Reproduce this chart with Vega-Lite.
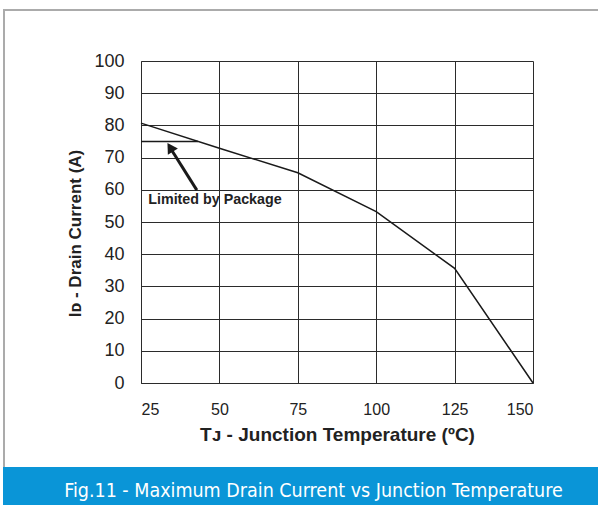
{
  "$schema": "https://vega.github.io/schema/vega-lite/v6.json",
  "padding": {"left": 3, "top": 9, "right": 0, "bottom": 0},
  "background": "white",
  "config": {"view": {"stroke": null}, "font": "Liberation Sans"},
  "spacing": 0,
  "vconcat": [
    {
      "spacing": 0,
      "hconcat": [
        {
          "width": 2,
          "height": 458,
          "view": {"fill": "#ababab", "stroke": null},
          "data": {"values": []},
          "mark": {"type": "point"}
        },
        {
          "spacing": 41,
          "vconcat": [
            {
              "width": 593,
              "height": 2,
              "view": {"fill": "#ababab", "stroke": null},
              "data": {"values": []},
              "mark": {"type": "point"}
            },
            {
              "spacing": 135,
              "bounds": "flush",
              "hconcat": [
                {
                  "width": 1,
                  "height": 1,
                  "data": {"values": []},
                  "mark": {"type": "point"}
                },
                {
                  "width": 392,
                  "height": 322,
                  "data": {"values": [
                    {"tj": 25, "id": 80.7},
                    {"tj": 50, "id": 72.9},
                    {"tj": 75, "id": 65.3},
                    {"tj": 100, "id": 53.2},
                    {"tj": 125, "id": 35.6},
                    {"tj": 150, "id": 0}
                  ]},
                  "encoding": {
                    "x": {
                      "field": "tj", "type": "quantitative",
                      "scale": {"domain": [25, 150], "nice": false, "zero": false},
                      "axis": {
                        "values": [25, 50, 75, 100, 125, 150],
                        "ticks": false, "grid": true, "gridColor": "#2b2b2b", "gridWidth": 1,
                        "domainColor": "#2b2b2b", "domainWidth": 1,
                        "labelFontSize": 16, "labelColor": "#222", "labelPadding": 18,
                        "labelFont": "Liberation Sans",
                        "title": "Tᴊ - Junction Temperature (ºC)",
                        "titleFontSize": 19, "titleFontWeight": "bold", "titleColor": "#222",
                        "titlePadding": 8, "titleFont": "Liberation Sans"
                      }
                    },
                    "y": {
                      "field": "id", "type": "quantitative",
                      "scale": {"domain": [0, 100], "nice": false},
                      "axis": {
                        "values": [0, 10, 20, 30, 40, 50, 60, 70, 80, 90, 100],
                        "ticks": false, "grid": true, "gridColor": "#2b2b2b", "gridWidth": 1,
                        "domainColor": "#2b2b2b", "domainWidth": 1,
                        "labelFontSize": 18, "labelColor": "#222", "labelPadding": 17,
                        "labelFont": "Liberation Sans",
                        "title": "Iᴅ - Drain Current (A)",
                        "titleFontSize": 17, "titleFontWeight": "bold", "titleColor": "#222",
                        "titlePadding": 9, "titleFont": "Liberation Sans", "titleY": 172
                      }
                    }
                  },
                  "layer": [
                    {"mark": {"type": "line", "color": "#1a1a1a", "strokeWidth": 1.5}},
                    {
                      "data": {"values": [{"xa": 25, "xb": 43.2, "yv": 75}]},
                      "mark": {"type": "rule", "color": "#1a1a1a", "strokeWidth": 1.3},
                      "encoding": {
                        "x": {"field": "xa", "type": "quantitative"},
                        "x2": {"field": "xb"},
                        "y": {"field": "yv", "type": "quantitative"}
                      }
                    },
                    {
                      "data": {"values": [{"xa": 42.8, "ya": 59.9, "xb": 34.6, "yb": 72.6}]},
                      "mark": {"type": "rule", "color": "#1a1a1a", "strokeWidth": 3},
                      "encoding": {
                        "x": {"field": "xa", "type": "quantitative"},
                        "y": {"field": "ya", "type": "quantitative"},
                        "x2": {"field": "xb"},
                        "y2": {"field": "yb"}
                      }
                    },
                    {
                      "data": {"values": [{"xh": 34.3, "yh": 73.2}]},
                      "mark": {"type": "point", "shape": "triangle-up", "filled": true, "color": "#1a1a1a", "opacity": 1, "size": 140, "angle": -32},
                      "encoding": {
                        "x": {"field": "xh", "type": "quantitative"},
                        "y": {"field": "yh", "type": "quantitative"}
                      }
                    },
                    {
                      "data": {"values": [{"xt": 27.3, "yt": 56.8, "label": "Limited by Package"}]},
                      "mark": {"type": "text", "align": "left", "baseline": "middle", "fontSize": 14.3, "fontWeight": "bold", "color": "#222", "font": "Liberation Sans"},
                      "encoding": {
                        "x": {"field": "xt", "type": "quantitative"},
                        "y": {"field": "yt", "type": "quantitative"},
                        "text": {"field": "label"}
                      }
                    }
                  ]
                }
              ]
            }
          ]
        }
      ]
    },
    {
      "width": 595,
      "height": 38,
      "view": {"fill": "#0a95d7", "stroke": null},
      "data": {"values": [{"caption": "Fig.11 - Maximum Drain Current vs Junction Temperature"}]},
      "mark": {"type": "text", "color": "white", "fontSize": 19.5, "font": "DejaVu Sans Condensed", "align": "center", "baseline": "middle", "dx": 13, "dy": 5},
      "encoding": {"text": {"field": "caption"}}
    }
  ]
}
